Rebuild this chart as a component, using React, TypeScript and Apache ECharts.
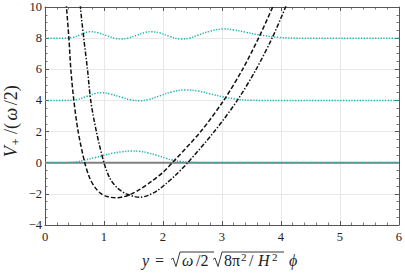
import React, { useEffect, useRef } from "react";
import * as echarts from "echarts";

// ---------- data ----------
const X_MIN = 0, X_MAX = 6, X_STEP = 1;
const Y_MIN = -4, Y_MAX = 10, Y_STEP = 2;

// dashed potential curve
const potentialAX = [0.335, 0.365, 0.405, 0.438, 0.489, 0.562, 0.674, 0.76, 0.85, 0.955, 1.07, 1.2, 1.33, 1.43, 1.6, 1.8, 2.0, 2.16, 2.64, 3.03, 3.35, 3.62, 3.86, 4.08];
const potentialAY = [12, 10, 8, 6, 4, 2, 0, -1, -1.6, -2.0, -2.19, -2.25, -2.19, -2.07, -1.73, -1.22, -0.62, 0, 2, 4, 6, 8, 10, 12];

// dash-dot potential curve
const potentialBX = [0.575, 0.601, 0.657, 0.72, 0.775, 0.871, 1.0, 1.1, 1.22, 1.35, 1.43, 1.5, 1.6, 1.75, 1.9, 2.05, 2.2, 2.42, 2.87, 3.26, 3.58, 3.85, 4.08, 4.3];
const potentialBY = [12, 10, 8, 6, 4, 2, 0, -1, -1.6, -1.95, -2.07, -2.16, -2.22, -2.1, -1.8, -1.35, -0.85, 0, 2, 4, 6, 8, 10, 12];

// wavefunctions (dotted cyan), offset by their levels
const psi0X = [0, 0.3, 0.45, 0.55, 0.674, 0.85, 1.0, 1.15, 1.3, 1.46, 1.6, 1.75, 1.9, 2.05, 2.16, 2.3, 2.47, 2.7, 3.5, 6];
const psi0Y = [0, 0, 0.02, 0.07, 0.17, 0.33, 0.48, 0.61, 0.7, 0.75, 0.73, 0.63, 0.47, 0.29, 0.17, 0.08, 0.03, 0, 0, 0];

const psi1X = [0, 0.35, 0.55, 0.7, 0.85, 0.955, 1.1, 1.3, 1.45, 1.6, 1.75, 1.95, 2.15, 2.38, 2.6, 2.8, 3.03, 3.25, 3.5, 3.8, 6];
const psi1Y = [4, 4, 4.06, 4.25, 4.44, 4.5, 4.42, 4.2, 4.04, 3.98, 4.05, 4.3, 4.55, 4.67, 4.6, 4.42, 4.22, 4.08, 4.01, 4, 4];

const psi2X = [0, 0.3, 0.47, 0.6, 0.76, 0.9, 1.05, 1.2, 1.29, 1.4, 1.55, 1.7, 1.8, 1.95, 2.1, 2.3, 2.45, 2.6, 2.8, 3.03, 3.2, 3.4, 3.62, 3.96, 4.4, 6];
const psi2Y = [8, 8, 8.05, 8.22, 8.41, 8.35, 8.15, 7.98, 7.95, 7.99, 8.18, 8.37, 8.41, 8.33, 8.13, 7.95, 8.0, 8.2, 8.45, 8.59, 8.52, 8.38, 8.22, 8.05, 8.0, 8];

const zeroLineX = [0, 6];
const zeroLineY = [0, 0];

const Y_NAME = "{i|V}{s|+}{n|/(}{i|ω}{n|/2)}";

// ---------- helpers ----------
const zip = (xs: number[], ys: number[]) => xs.map((x, i) => [x, ys[i]]);
const SERIF = "Liberation Serif, Times New Roman, serif";
const AXIS_COLOR = "#555";
const CYAN = "#1fb5b5";
const TXT = "#222";

// x-axis title pieces laid out to match the reference's math typesetting
function buildXLabel(baseline: number) {
  const FS = 16;
  const SUP = 11;
  const els: any[] = [];
  const txt = (x: number, text: string, it = false, sup = false) => {
    const size = sup ? SUP : FS;
    els.push({
      type: "text",
      x,
      y: sup ? baseline - 6 : baseline,
      silent: true,
      style: {
        text,
        fontFamily: SERIF,
        fontSize: size,
        fontStyle: it ? "italic" : "normal",
        fill: TXT,
        align: "left",
        verticalAlign: "bottom",
      },
    });
  };
  const rad = (x0: number, xEnd: number) => {
    const b = baseline - 3.5;
    els.push({
      type: "polyline",
      silent: true,
      shape: {
        points: [
          [x0, b - 5],
          [x0 + 2, b - 6.5],
          [x0 + 5, b + 2],
          [x0 + 9, b - 12.5],
          [xEnd, b - 12.5],
        ],
      },
      style: { stroke: TXT, lineWidth: 0.9, fill: null },
    });
  };
  txt(142, "y", true);
  txt(155, "=");
  rad(171, 214);
  txt(182, "ω", true);
  txt(196, "/2");
  rad(213, 284);
  txt(224, "8π");
  txt(241, "2", false, true);
  txt(249, "/");
  txt(258, "H", true);
  txt(272, "2", false, true);
  txt(289, "ϕ", true);
  return els;
}

const fmt = (v: number) => String(v).replace("-", "\u2212");

export default function App() {
  const ref = useRef<HTMLDivElement>(null);
  useEffect(() => {
    document.body.style.margin = "0";
    if (!ref.current) return;
    const chart = echarts.init(ref.current, undefined, { renderer: "svg" });

    const axisCommon = {
      type: "value" as const,
      axisLine: { show: true, onZero: false, lineStyle: { color: AXIS_COLOR, width: 1 } },
      axisTick: { show: true, inside: true, length: 4, lineStyle: { color: AXIS_COLOR, width: 1 } },
      minorTick: { show: true, length: 2.5, lineStyle: { color: AXIS_COLOR, width: 0.8 } },
    };
    const labelStyle = { color: TXT, fontSize: 12.5, fontFamily: SERIF, formatter: fmt };

    const option: any = {
      animation: false,
      backgroundColor: "#fff",
      grid: { left: 45, right: 4, top: 7, bottom: 49, containLabel: false },
      xAxis: [
        {
          ...axisCommon,
          position: "bottom",
          min: X_MIN,
          max: X_MAX,
          interval: X_STEP,
          minorTick: { ...axisCommon.minorTick, splitNumber: 5 },
          splitLine: { show: true, lineStyle: { color: "#e8e8e8", width: 1 } },
          axisLabel: { show: true, margin: 5, ...labelStyle },
        },
        {
          ...axisCommon,
          position: "top",
          min: X_MIN,
          max: X_MAX,
          interval: X_STEP,
          minorTick: { ...axisCommon.minorTick, splitNumber: 5 },
          splitLine: { show: false },
          axisLabel: { show: false },
        },
      ],
      yAxis: [
        {
          ...axisCommon,
          position: "left",
          min: Y_MIN,
          max: Y_MAX,
          interval: Y_STEP,
          minorTick: { ...axisCommon.minorTick, splitNumber: 4 },
          splitLine: { show: true, lineStyle: { color: "#e8e8e8", width: 1 } },
          axisLabel: { show: true, margin: 3, ...labelStyle },
        },
        {
          ...axisCommon,
          position: "right",
          min: Y_MIN,
          max: Y_MAX,
          interval: Y_STEP,
          minorTick: { ...axisCommon.minorTick, splitNumber: 4 },
          splitLine: { show: false },
          axisLabel: { show: false },
        },
      ],
      series: [
        {
          type: "line",
          data: zip(zeroLineX, zeroLineY),
          showSymbol: false,
          lineStyle: { color: "#808080", width: 2 },
          z: 2,
        },
        ...[
          [psi0X, psi0Y],
          [psi1X, psi1Y],
          [psi2X, psi2Y],
        ].map(([xs, ys]) => ({
          type: "line",
          data: zip(xs, ys),
          showSymbol: false,
          smooth: 0.4,
          lineStyle: { color: CYAN, width: 1.5, type: [1.3, 1.5] },
          z: 3,
        })),
        {
          type: "line",
          data: zip(potentialAX, potentialAY),
          showSymbol: false,
          smooth: 0.3,
          clip: true,
          lineStyle: { color: "#111", width: 1.5, type: [4.5, 2.2] },
          z: 4,
        },
        {
          type: "line",
          data: zip(potentialBX, potentialBY),
          showSymbol: false,
          smooth: 0.3,
          clip: true,
          lineStyle: { color: "#111", width: 1.5, type: [4.5, 1.8, 1.4, 1.8] },
          z: 4,
        },
      ],
      graphic: [
        {
          type: "text",
          x: 11,
          y: 121,
          rotation: Math.PI / 2,
          silent: true,
          style: {
            text: Y_NAME,
            align: "center",
            verticalAlign: "middle",
            fill: TXT,
            fontFamily: SERIF,
            fontSize: 17,
            rich: {
              i: { fontStyle: "italic", fontSize: 18, fontFamily: SERIF, fill: TXT, padding: [0, 1, 0, 1] },
              n: { fontSize: 18, fontFamily: SERIF, fill: TXT, padding: [0, 1.5, 0, 1.5] },
              s: { fontSize: 12, fontFamily: SERIF, fill: TXT, padding: [9, 3, 0, 0] },
            },
          },
        },
        ...buildXLabel(268),
      ],
    };
    chart.setOption(option);
    return () => chart.dispose();
  }, []);
  return <div ref={ref} style={{ width: 405, height: 274 }} />;
}
